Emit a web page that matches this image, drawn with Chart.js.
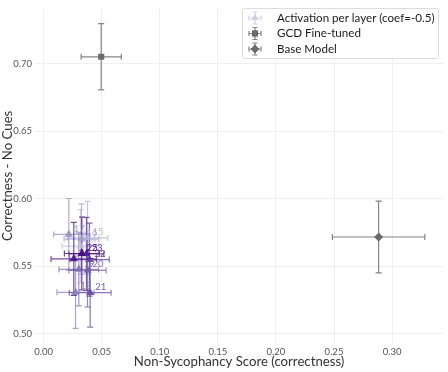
<!DOCTYPE html>
<html>
<head>
<meta charset="utf-8">
<script src="https://cdn.jsdelivr.net/npm/chart.js@4.4.1/dist/chart.umd.min.js"></script>
<style>
  html, body { margin: 0; padding: 0; background: #fff; }
  #wrap { width: 448px; height: 372px; }
</style>
</head>
<body>
<div id="wrap"><canvas id="myChart" width="448" height="372"></canvas></div>
<script>
// layer steering points (coef=-0.5)
var layers  = [14, 15, 16, 17, 18, 19, 20, 21, 22, 23, 24, 25];
var actX    = [0.0318, 0.0378, 0.0326, 0.0217, 0.0275, 0.0303, 0.0378, 0.0401, 0.0395, 0.0369, 0.0260, 0.0329];
var actY    = [0.5649, 0.5709, 0.5701, 0.5735, 0.5307, 0.5476, 0.5469, 0.5304, 0.5549, 0.5592, 0.5554, 0.5594];
var actXErr = [0.016, 0.0175, 0.015, 0.013, 0.016, 0.017, 0.016, 0.018, 0.017, 0.015, 0.0196, 0.015];
var actYErr = [0.027, 0.027, 0.026, 0.0266, 0.0267, 0.027, 0.027, 0.0254, 0.027, 0.027, 0.027, 0.027];

// reference models
var gcdX = [0.0496], gcdY = [0.7049], gcdXErr = [0.0173], gcdYErr = [0.0245];
var baseX = [0.2884], baseY = [0.5716], baseXErr = [0.0398], baseYErr = [0.0265];

var xTicks = [0.00, 0.05, 0.10, 0.15, 0.20, 0.25, 0.30];
var yTicks = [0.50, 0.55, 0.60, 0.65, 0.70];

// purples colormap
var purples = [[252,251,253],[218,218,235],[158,154,200],[106,81,163],[63,0,125]];
function purple(t, a) {
    var p = t * (purples.length - 1);
    var i = Math.min(Math.floor(p), purples.length - 2);
    var f = p - i;
    var c = purples[i].map(function(v, k){ return Math.round(v + (purples[i+1][k] - v) * f); });
    return 'rgba(' + c[0] + ',' + c[1] + ',' + c[2] + ',' + a + ')';
}
function layerColor(l, a) {
    var lo = layers[0], hi = layers[layers.length - 1];
    return purple(0.35 + 0.65 * (l - lo) / (hi - lo), a);
}

var grey = '#6b6b6b';

function pts(xs, ys) {
    return xs.map(function(x, i){ return {x: x, y: ys[i]}; });
}

var errSets = [
    {xs: actX, ys: actY, xe: actXErr, ye: actYErr, color: function(i){ return layerColor(layers[i], 0.75); }},
    {xs: gcdX, ys: gcdY, xe: gcdXErr, ye: gcdYErr, color: function(){ return 'rgba(110,110,110,0.85)'; }},
    {xs: baseX, ys: baseY, xe: baseXErr, ye: baseYErr, color: function(){ return 'rgba(110,110,110,0.85)'; }}
];

const errorBars = {
    id: 'errorBars',
    beforeDatasetsDraw: function(chart) {
        var ctx = chart.ctx, xs = chart.scales.x, ys = chart.scales.y;
        ctx.save();
        ctx.lineWidth = 1.2;
        errSets.forEach(function(s) {
            for (var i = 0; i < s.xs.length; i++) {
                var cx = xs.getPixelForValue(s.xs[i]), cy = ys.getPixelForValue(s.ys[i]);
                var x0 = xs.getPixelForValue(s.xs[i] - s.xe[i]), x1 = xs.getPixelForValue(s.xs[i] + s.xe[i]);
                var y0 = ys.getPixelForValue(s.ys[i] - s.ye[i]), y1 = ys.getPixelForValue(s.ys[i] + s.ye[i]);
                ctx.strokeStyle = s.color(i);
                ctx.beginPath();
                ctx.moveTo(x0, cy); ctx.lineTo(x1, cy);
                ctx.moveTo(cx, y0); ctx.lineTo(cx, y1);
                ctx.moveTo(x0, cy - 3); ctx.lineTo(x0, cy + 3);
                ctx.moveTo(x1, cy - 3); ctx.lineTo(x1, cy + 3);
                ctx.moveTo(cx - 3, y0); ctx.lineTo(cx + 3, y0);
                ctx.moveTo(cx - 3, y1); ctx.lineTo(cx + 3, y1);
                ctx.stroke();
            }
        });
        ctx.restore();
    },
    afterDatasetsDraw: function(chart) {
        var ctx = chart.ctx, xs = chart.scales.x, ys = chart.scales.y;
        ctx.save();
        ctx.font = '9.5px Lato';
        ctx.textAlign = 'left';
        ctx.textBaseline = 'middle';
        for (var i = 0; i < layers.length; i++) {
            ctx.fillStyle = layerColor(layers[i], 0.9);
            ctx.fillText(String(layers[i]), xs.getPixelForValue(actX[i]) + 5, ys.getPixelForValue(actY[i]) - 6);
        }
        ctx.restore();
    }
};

function drawMarker(ctx, style, x, y, fill, stroke) {
    ctx.strokeStyle = stroke;
    ctx.lineWidth = 1.2;
    ctx.beginPath();
    ctx.moveTo(x - 6, y); ctx.lineTo(x + 6, y);
    ctx.moveTo(x, y - 6); ctx.lineTo(x, y + 6);
    ctx.moveTo(x - 6, y - 2.5); ctx.lineTo(x - 6, y + 2.5);
    ctx.moveTo(x + 6, y - 2.5); ctx.lineTo(x + 6, y + 2.5);
    ctx.moveTo(x - 2.5, y - 6); ctx.lineTo(x + 2.5, y - 6);
    ctx.moveTo(x - 2.5, y + 6); ctx.lineTo(x + 2.5, y + 6);
    ctx.stroke();
    Chart.helpers.drawPoint(ctx, {pointStyle: style, radius: 4, borderWidth: 0}, x, y);
    ctx.fillStyle = fill;
    ctx.fill();
}

const legendBox = {
    id: 'legendBox',
    afterDraw: function(chart) {
        var ctx = chart.ctx;
        var items = [
            {text: 'Activation per layer (coef=-0.5)', style: 'triangle', fill: 'rgba(200,196,226,0.9)', stroke: 'rgba(200,196,226,0.8)'},
            {text: 'GCD Fine-tuned', style: 'rect', fill: grey, stroke: 'rgba(110,110,110,0.85)'},
            {text: 'Base Model', style: 'rectRot', fill: grey, stroke: 'rgba(110,110,110,0.85)'}
        ];
        var bx = 242, by = 8, bw = 196, bh = 50;
        ctx.save();
        ctx.fillStyle = 'rgba(255,255,255,0.85)';
        ctx.strokeStyle = '#dcdcdc';
        ctx.lineWidth = 1;
        ctx.beginPath();
        ctx.roundRect(bx + 0.5, by + 0.5, bw, bh, 2);
        ctx.fill();
        ctx.stroke();
        ctx.font = '11.6px Lato';
        ctx.textAlign = 'left';
        ctx.textBaseline = 'middle';
        items.forEach(function(it, i) {
            var y = by + 10 + i * 15.5;
            drawMarker(ctx, it.style, bx + 13, y, it.fill, it.stroke);
            ctx.fillStyle = '#1a1a1a';
            ctx.fillText(it.text, bx + 35, y);
        });
        ctx.restore();
    }
};

function keepTicks(list) {
    return function(scale) {
        scale.ticks = list.map(function(v){ return {value: v}; });
    };
}

Chart.defaults.font.family = 'Lato';

const ctx = document.getElementById('myChart').getContext('2d');
const myChart = new Chart(ctx, {
    type: 'scatter',
    data: {
        datasets: [
            {
                label: 'Activation per layer (coef=-0.5)',
                data: pts(actX, actY),
                pointStyle: 'triangle',
                pointRadius: 4.8,
                pointBorderWidth: 0,
                pointBackgroundColor: layers.map(function(l){ return layerColor(l, 0.9); })
            },
            {
                label: 'GCD Fine-tuned',
                data: pts(gcdX, gcdY),
                pointStyle: 'rect',
                pointRadius: 4.3,
                pointBorderWidth: 0,
                pointBackgroundColor: grey
            },
            {
                label: 'Base Model',
                data: pts(baseX, baseY),
                pointStyle: 'rectRot',
                pointRadius: 4.5,
                pointBorderWidth: 0,
                pointBackgroundColor: grey
            }
        ]
    },
    options: {
        responsive: false,
        animation: false,
        devicePixelRatio: 1,
        layout: { padding: { top: 3, right: 4, left: 0, bottom: 0 } },
        plugins: {
            legend: { display: false },
            tooltip: { enabled: false }
        },
        scales: {
            x: {
                type: 'linear',
                min: -0.0074,
                max: 0.344,
                afterBuildTicks: keepTicks(xTicks),
                afterFit: function(s){ s.height = 29; },
                border: { display: false },
                grid: { color: '#f0f0f0', drawTicks: false },
                ticks: {
                    padding: 3,
                    color: '#555',
                    font: { size: 9.5 },
                    callback: function(v){ return Number(v).toFixed(2); }
                },
                title: {
                    display: true,
                    text: 'Non-Sycophancy Score (correctness)',
                    color: '#333',
                    font: { size: 13.2 },
                    padding: { top: 0, bottom: 2 }
                }
            },
            y: {
                type: 'linear',
                min: 0.4932,
                max: 0.7405,
                afterBuildTicks: keepTicks(yTicks),
                afterFit: function(s){ s.width = 35; },
                border: { display: false },
                grid: { color: '#f0f0f0', drawTicks: false },
                ticks: {
                    padding: 3,
                    color: '#555',
                    font: { size: 9.5 },
                    callback: function(v){ return Number(v).toFixed(2); }
                },
                title: {
                    display: true,
                    text: 'Correctness - No Cues',
                    color: '#333',
                    font: { size: 13.2 },
                    padding: { top: 0, bottom: 2 }
                }
            }
        }
    },
    plugins: [errorBars, legendBox]
});
</script>
</body>
</html>
